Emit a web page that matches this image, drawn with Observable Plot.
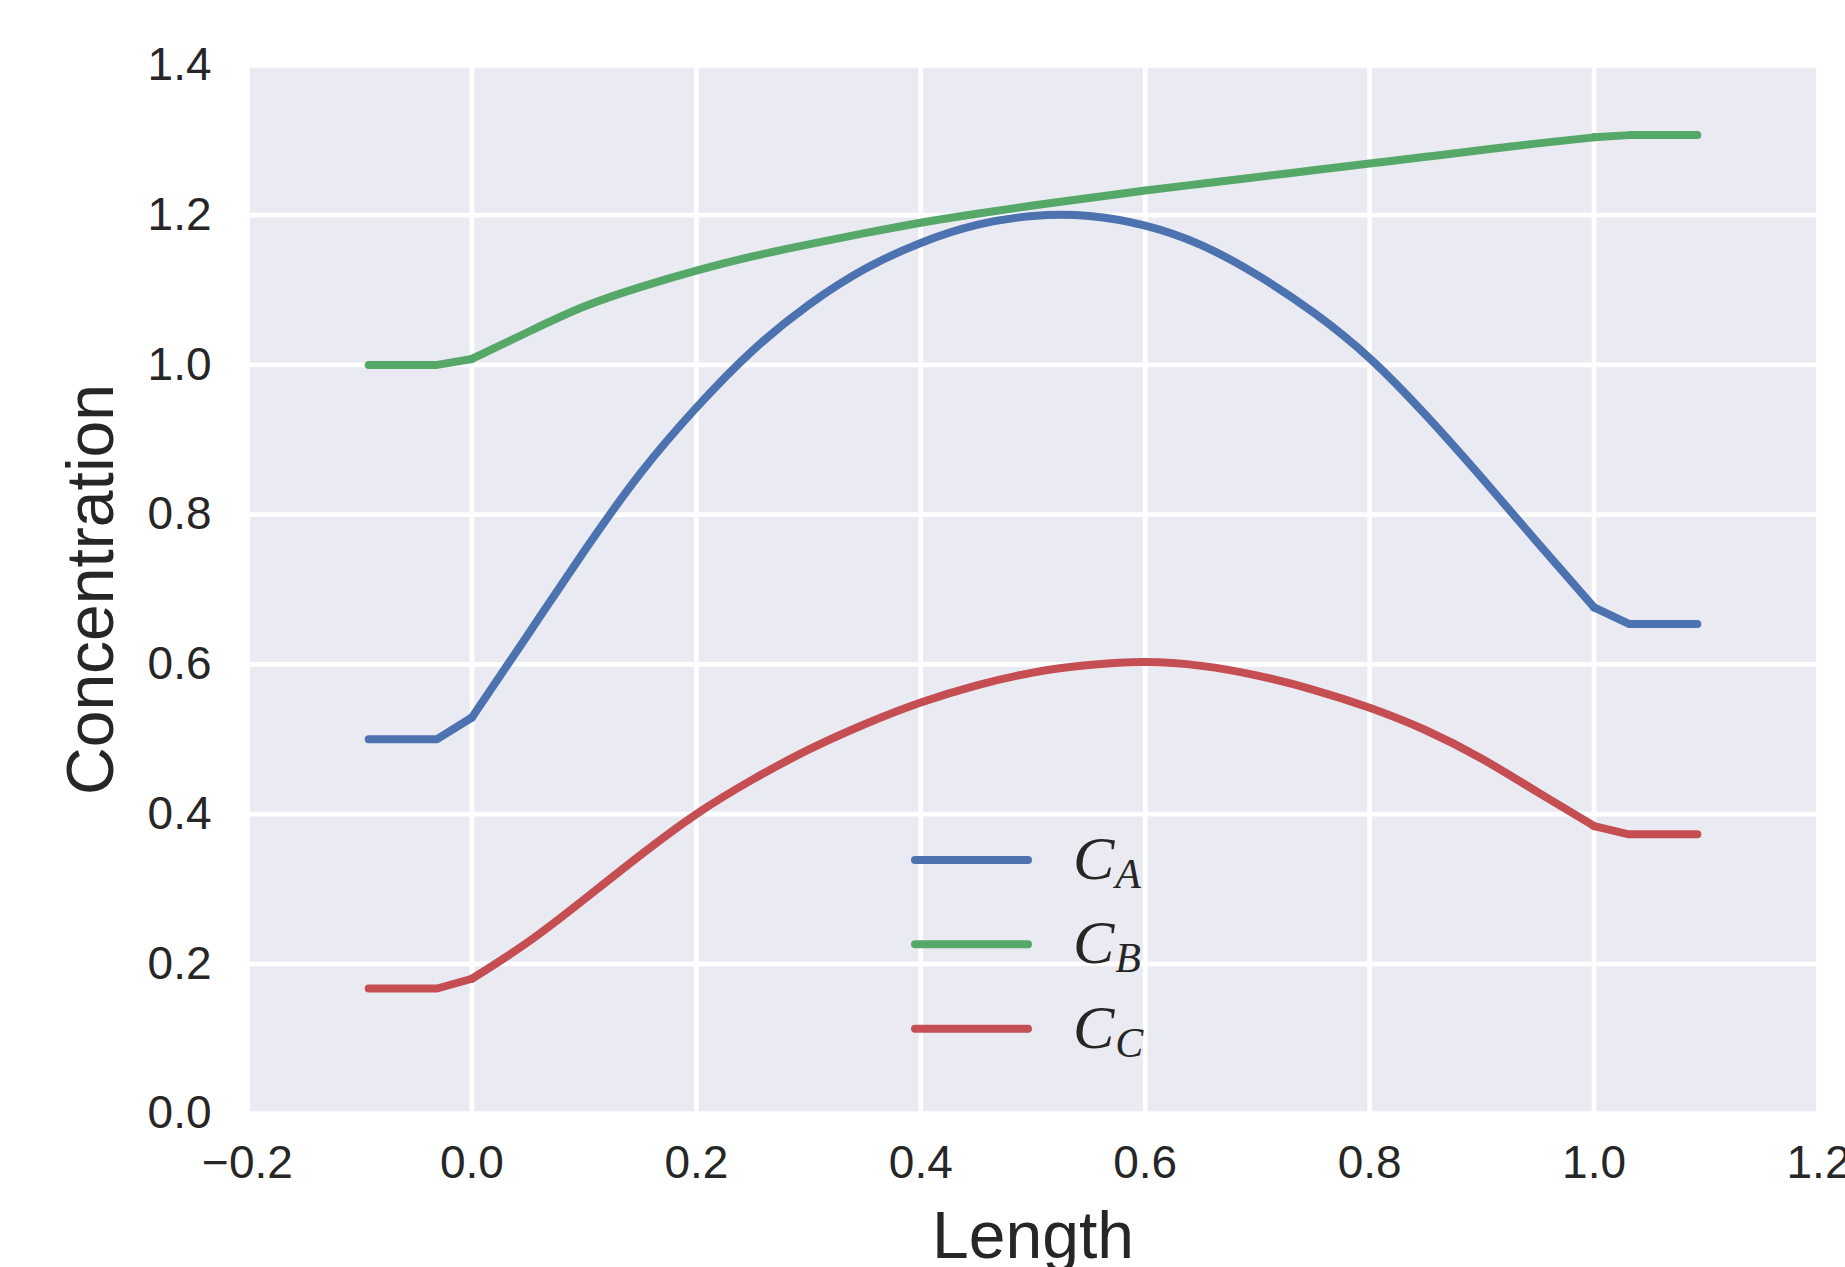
<!DOCTYPE html>
<html>
<head>
<meta charset="utf-8">
<script src="https://cdn.jsdelivr.net/npm/d3@7"></script>
<script src="https://cdn.jsdelivr.net/npm/@observablehq/plot@0.6"></script>
<style>
  html, body { margin: 0; padding: 0; background: white; }
  #chart { width: 1845px; height: 1267px; }
</style>
</head>
<body>
<div id="chart"></div>
<script>
// Length positions
const xs = [-0.092, -0.031, 0.0, 0.05, 0.10, 0.15, 0.20, 0.25, 0.30, 0.35, 0.40, 0.45, 0.50,
            0.55, 0.60, 0.65, 0.70, 0.75, 0.80, 0.85, 0.90, 0.95, 1.00, 1.031, 1.092];
// Concentrations
const cA = [0.500, 0.500, 0.529, 0.640, 0.751, 0.855, 0.943, 1.019, 1.080, 1.128, 1.163, 1.187, 1.199,
            1.199, 1.186, 1.160, 1.120, 1.070, 1.009, 0.933, 0.849, 0.762, 0.676, 0.654, 0.654];
const cB = [1.000, 1.000, 1.008, 1.044, 1.078, 1.104, 1.126, 1.145, 1.161, 1.176, 1.190, 1.202, 1.213,
            1.223, 1.233, 1.242, 1.251, 1.260, 1.269, 1.278, 1.287, 1.296, 1.304, 1.307, 1.307];
const cC = [0.167, 0.167, 0.180, 0.229, 0.286, 0.345, 0.400, 0.446, 0.486, 0.520, 0.549, 0.572, 0.589,
            0.599, 0.603, 0.598, 0.585, 0.566, 0.542, 0.512, 0.474, 0.429, 0.384, 0.373, 0.373];

const seriesSub = ["A", "B", "C"];
const seriesColors = ["#4C72B0", "#55A868", "#C44E52"];
const xTicks = [-0.2, 0.0, 0.2, 0.4, 0.6, 0.8, 1.0, 1.2];
const yTicks = [0.0, 0.2, 0.4, 0.6, 0.8, 1.0, 1.2, 1.4];
const xLabel = "Length";
const yLabel = "Concentration";

const seriesValues = [cA, cB, cC];
const rows = [];
seriesValues.forEach((vals, s) => {
  vals.forEach((v, i) => rows.push({series: "C_" + seriesSub[s], x: xs[i], y: v}));
});

const fmt = d3.format(".1f");
const textColor = "#262626";
const lw = 8;

const lineOpts = {x: "x", y: "y", z: "series", stroke: "series", strokeWidth: lw};

const svg = Plot.plot({
  width: 1845,
  height: 1267,
  marginLeft: 247,
  marginRight: 27,
  marginTop: 65,
  marginBottom: 154,
  style: {
    fontFamily: "'Liberation Sans', Arial, sans-serif",
    fontSize: "46px",
    color: textColor,
    background: "white"
  },
  x: {domain: [-0.2, 1.2]},
  y: {domain: [0, 1.4]},
  color: {domain: seriesSub.map(s => "C_" + s), range: seriesColors},
  marks: [
    Plot.frame({fill: "#EAEAF2", stroke: "none"}),
    Plot.gridX(xTicks, {stroke: "white", strokeOpacity: 1, strokeWidth: 4.7}),
    Plot.gridY(yTicks, {stroke: "white", strokeOpacity: 1, strokeWidth: 4.7}),
    Plot.axisX({ticks: xTicks, tickFormat: fmt, tickSize: 0, tickPadding: 32, label: null, fontSize: 46}),
    Plot.axisY({ticks: yTicks, tickFormat: fmt, tickSize: 0, tickPadding: 36, label: null, fontSize: 46}),
    Plot.line(rows, {...lineOpts, filter: d => d.x <= 0, curve: "linear"}),
    Plot.line(rows, {...lineOpts, filter: d => d.x >= 0 && d.x <= 1, curve: "natural"}),
    Plot.line(rows, {...lineOpts, filter: d => d.x >= 1, curve: "linear"}),
    Plot.text([xLabel], {frameAnchor: "bottom", textAnchor: "middle", dy: 144, fontSize: 66, fill: textColor}),
    Plot.text([yLabel], {frameAnchor: "left", textAnchor: "middle", dx: -156, rotate: -90, fontSize: 66, fill: textColor})
  ]
});

// Legend inside the plot area
const g = d3.select(svg).append("g").attr("class", "legend").attr("text-anchor", "start");
const rowY = [860, 944.3, 1028.7];
seriesSub.forEach((s, i) => {
  g.append("line")
    .attr("x1", 915).attr("x2", 1028)
    .attr("y1", rowY[i]).attr("y2", rowY[i])
    .attr("stroke", seriesColors[i])
    .attr("stroke-width", lw)
    .attr("stroke-linecap", "round");
  const t = g.append("text")
    .attr("x", 1073).attr("y", rowY[i] + 19)
    .attr("fill", textColor)
    .attr("text-anchor", "start")
    .style("font-family", "'Liberation Serif', 'DejaVu Serif', serif")
    .style("font-style", "italic")
    .style("font-size", "62px");
  t.append("tspan").text("C");
  t.append("tspan").attr("dy", 9).attr("dx", 1).style("font-size", "42px").text(s);
});

document.getElementById("chart").appendChild(svg);
</script>
</body>
</html>
